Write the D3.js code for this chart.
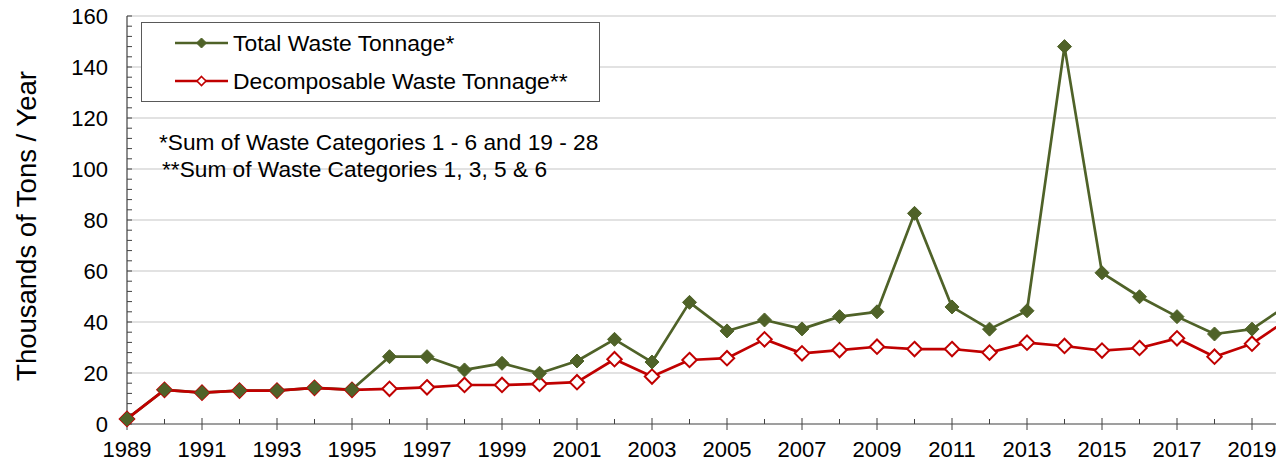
<!DOCTYPE html>
<html>
<head>
<meta charset="utf-8">
<script src="https://cdn.jsdelivr.net/npm/d3@7"></script>
<style>
  html, body { margin: 0; padding: 0; background: #fff; }
  svg { display: block; font-family: "Liberation Sans", Arial, sans-serif; }
</style>
</head>
<body>
<svg id="chart" width="1276" height="463"></svg>
<script>
// ---- data ----
const years = d3.range(1989, 2021);
const totalWaste = [2, 13.4, 12.3, 13.1, 13.1, 14.2, 13.5, 26.4, 26.4, 21.2, 23.8, 19.9, 24.7, 33.2, 24.3, 47.7,
                    36.5, 40.8, 37.3, 42.1, 44, 82.6, 45.9, 37.2, 44.4, 148, 59.3, 49.9, 42.1, 35.3, 37.2, 47.2];
const decompWaste = [2, 13.4, 12.3, 13.1, 13.1, 14.2, 13.4, 13.8, 14.4, 15.3, 15.3, 15.7, 16.4, 25.4, 18.6, 25.1,
                     25.8, 33.2, 27.7, 29, 30.3, 29.4, 29.4, 28, 31.9, 30.6, 28.8, 29.8, 33.6, 26.4, 31.5, 41.5];
const seriesNames = ["Total Waste Tonnage*", "Decomposable Waste Tonnage**"];
const yTicks = [0, 20, 40, 60, 80, 100, 120, 140, 160];
const xLabelYears = d3.range(1989, 2020, 2);
const notes = ["*Sum of Waste Categories 1 - 6 and 19 - 28", "**Sum of Waste Categories 1, 3, 5 & 6"];
const yTitle = "Thousands of Tons / Year";

// ---- layout ----
const svg = d3.select("#chart");
const W = 1276, H = 463;
const plotLeft = 127, plotTop = 16, plotBottom = 424;
const yearStep = 37.5;
const x = d3.scaleLinear().domain([1989, 2020]).range([plotLeft, plotLeft + 31 * yearStep]);
const y = d3.scaleLinear().domain([0, 160]).range([plotBottom, plotTop]);
const green = "#4F6228", red = "#C00000";

svg.append("rect").attr("width", W).attr("height", H).attr("fill", "#fff");

svg.append("defs").append("clipPath").attr("id", "plotclip")
  .append("rect").attr("x", 0).attr("y", 0).attr("width", W).attr("height", H);

// gridlines
svg.append("g").selectAll("line").data(yTicks.filter(d => d > 0)).join("line")
  .attr("x1", plotLeft).attr("x2", W).attr("y1", d => y(d)).attr("y2", d => y(d))
  .attr("stroke", "#d9d9d9").attr("stroke-width", 1.5);

// y axis with minor ticks (every 4)
const yMinor = d3.range(0, 161, 4);
const yAxisG = svg.append("g");
yAxisG.append("line").attr("x1", plotLeft).attr("x2", plotLeft).attr("y1", plotTop).attr("y2", plotBottom)
  .attr("stroke", "#404040").attr("stroke-width", 1.2);
yAxisG.selectAll("line.mt").data(yMinor).join("line").attr("class", "mt")
  .attr("x1", plotLeft).attr("x2", plotLeft + 5).attr("y1", d => y(d)).attr("y2", d => y(d))
  .attr("stroke", "#404040").attr("stroke-width", 1);
yAxisG.selectAll("text").data(yTicks).join("text")
  .attr("x", plotLeft - 19).attr("y", d => y(d)).attr("dy", "0.36em")
  .attr("text-anchor", "end").attr("font-size", 22).attr("fill", "#000")
  .text(d => d);

// x axis
const xAxisG = svg.append("g");
xAxisG.append("line").attr("x1", plotLeft).attr("x2", W).attr("y1", plotBottom).attr("y2", plotBottom)
  .attr("stroke", "#404040").attr("stroke-width", 1.2);
xAxisG.selectAll("line.t").data(years.filter(v => x(v) <= W)).join("line").attr("class", "t")
  .attr("x1", d => x(d)).attr("x2", d => x(d))
  .attr("y1", d => (d - 1989) % 2 === 0 ? plotBottom - 6 : plotBottom - 5)
  .attr("y2", d => (d - 1989) % 2 === 0 ? plotBottom + 6 : plotBottom)
  .attr("stroke", "#404040").attr("stroke-width", 1);
xAxisG.selectAll("text").data(xLabelYears).join("text")
  .attr("x", d => x(d)).attr("y", 457)
  .attr("text-anchor", "middle").attr("font-size", 22).attr("fill", "#000")
  .text(d => d);

// y title
svg.append("text")
  .attr("transform", `translate(36,226) rotate(-90)`)
  .attr("text-anchor", "middle").attr("font-size", 27.5).attr("fill", "#000")
  .text(yTitle);

// series
const plot = svg.append("g").attr("clip-path", "url(#plotclip)");
const line = d3.line().x((d, i) => x(years[i])).y(d => y(d));

plot.append("path").datum(totalWaste).attr("d", line)
  .attr("fill", "none").attr("stroke", green).attr("stroke-width", 2.7).attr("stroke-linejoin", "round");
plot.append("path").datum(decompWaste).attr("d", line)
  .attr("fill", "none").attr("stroke", red).attr("stroke-width", 2.7).attr("stroke-linejoin", "round");

function diamondPath(h) {
  return `M0,${-h}L${h},0L0,${h}L${-h},0Z`;
}
// red markers first (white fill), green on top
plot.append("g").selectAll("path").data(decompWaste).join("path")
  .attr("transform", (d, i) => `translate(${x(years[i])},${y(d)})`)
  .attr("d", diamondPath(7.2))
  .attr("fill", "#fff").attr("stroke", red).attr("stroke-width", 2);
plot.append("g").selectAll("path").data(totalWaste).join("path")
  .attr("transform", (d, i) => `translate(${x(years[i])},${y(d)})`)
  .attr("d", diamondPath(7.0))
  .attr("fill", green).attr("stroke", green).attr("stroke-width", 1);

// legend
const lg = svg.append("g");
lg.append("rect").attr("x", 141.5).attr("y", 22.5).attr("width", 458).attr("height", 79)
  .attr("fill", "#fff").attr("stroke", "#595959").attr("stroke-width", 1);
const legendRows = [
  {name: seriesNames[0], color: green, filled: true, cy: 43},
  {name: seriesNames[1], color: red, filled: false, cy: 81}
];
legendRows.forEach(r => {
  lg.append("line").attr("x1", 175).attr("x2", 228).attr("y1", r.cy).attr("y2", r.cy)
    .attr("stroke", r.color).attr("stroke-width", 2.6);
  lg.append("path").attr("transform", `translate(201.5,${r.cy})`)
    .attr("d", diamondPath(r.filled ? 5 : 4.5))
    .attr("fill", r.filled ? r.color : "#fff").attr("stroke", r.color).attr("stroke-width", r.filled ? 1 : 1.6);
  lg.append("text").attr("x", 233).attr("y", r.cy).attr("dy", "0.36em")
    .attr("font-size", 22.9).attr("fill", "#000").text(r.name);
});

// notes
svg.append("text").attr("x", 159).attr("y", 150).attr("font-size", 22.7).attr("fill", "#000").text(notes[0]);
svg.append("text").attr("x", 162).attr("y", 176.5).attr("font-size", 22.7).attr("fill", "#000").text(notes[1]);
</script>
</body>
</html>
